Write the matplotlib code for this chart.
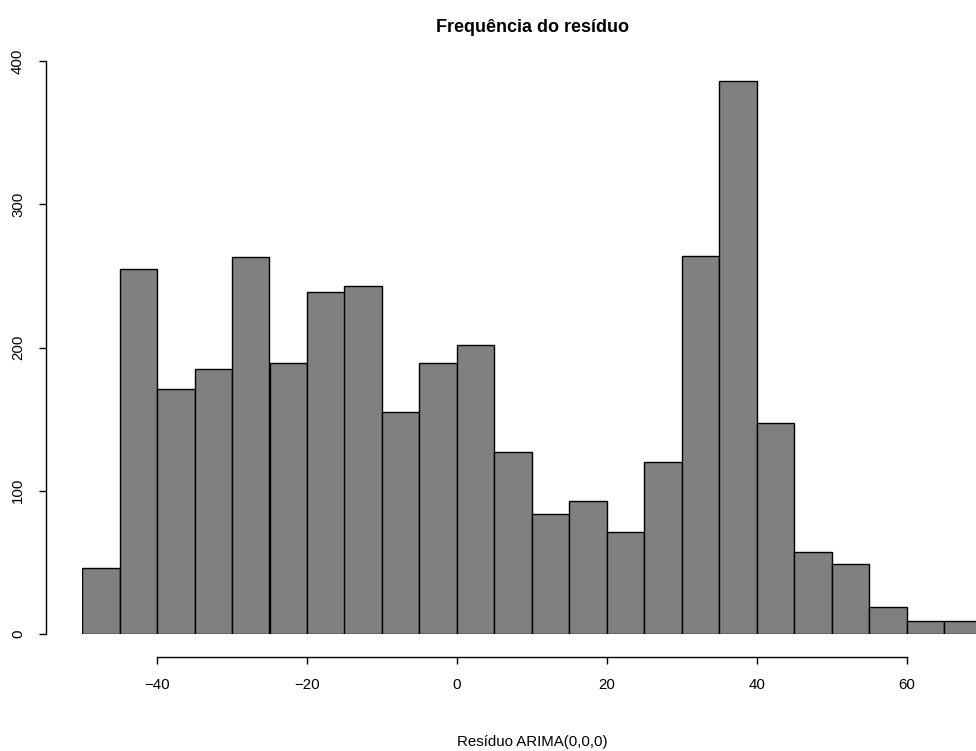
import matplotlib
matplotlib.use("Agg")
import matplotlib.pyplot as plt
import numpy as np

plt.rcParams['font.family'] = ['Liberation Sans', 'DejaVu Sans']

bin_edges = [-50, -45, -40, -35, -30, -25, -20, -15, -10, -5, 0, 5, 10, 15, 20,
             25, 30, 35, 40, 45, 50, 55, 60, 65, 70]
counts = [46, 255, 171, 185, 263, 189, 239, 243, 155, 189, 202, 127, 84, 93, 71,
          120, 264, 386, 147, 57, 49, 19, 9, 9]
x_ticks = [-40, -20, 0, 20, 40, 60]
y_ticks = [0, 100, 200, 300, 400]

W, H = 976, 751
fig = plt.figure(figsize=(W / 100, H / 100), dpi=100)
left_px, right_px = 82, 982
bottom_px, top_px = 634, 61
ax = fig.add_axes([left_px / W, (H - bottom_px) / H,
                   (right_px - left_px) / W, (bottom_px - top_px) / H])

edges = np.array(bin_edges, dtype=float)
ax.bar(edges[:-1], counts, width=np.diff(edges), align='edge',
       color='#808080', edgecolor='black', linewidth=1.0)

ax.set_xlim(-50, 70)
ax.set_ylim(0, 400)

for s in ['top', 'right']:
    ax.spines[s].set_visible(False)
ax.spines['left'].set_position(('outward', 36 * 0.72))
ax.spines['bottom'].set_position(('outward', 23 * 0.72))
ax.spines['left'].set_bounds(0, 400)
ax.spines['bottom'].set_bounds(-40, 60)
ax.spines['left'].set_linewidth(1.0)
ax.spines['bottom'].set_linewidth(1.0)

ax.set_xticks(x_ticks)
ax.set_xticklabels([str(t).replace('-', '\u2212') for t in x_ticks], fontsize=10.8)
ax.set_yticks(y_ticks)
ax.set_yticklabels([str(t) for t in y_ticks], fontsize=10.8, rotation=90, va='center')
ax.tick_params(axis='both', length=7 * 0.72, width=1.0, direction='out')
ax.tick_params(axis='x', pad=10)
ax.tick_params(axis='y', pad=10)

ax.set_title('Frequência do resíduo', fontsize=13, fontweight='bold', pad=21)
ax.set_xlabel('Resíduo ARIMA(0,0,0)', fontsize=10.8, labelpad=31)

fig.savefig('out.png', dpi=100)
